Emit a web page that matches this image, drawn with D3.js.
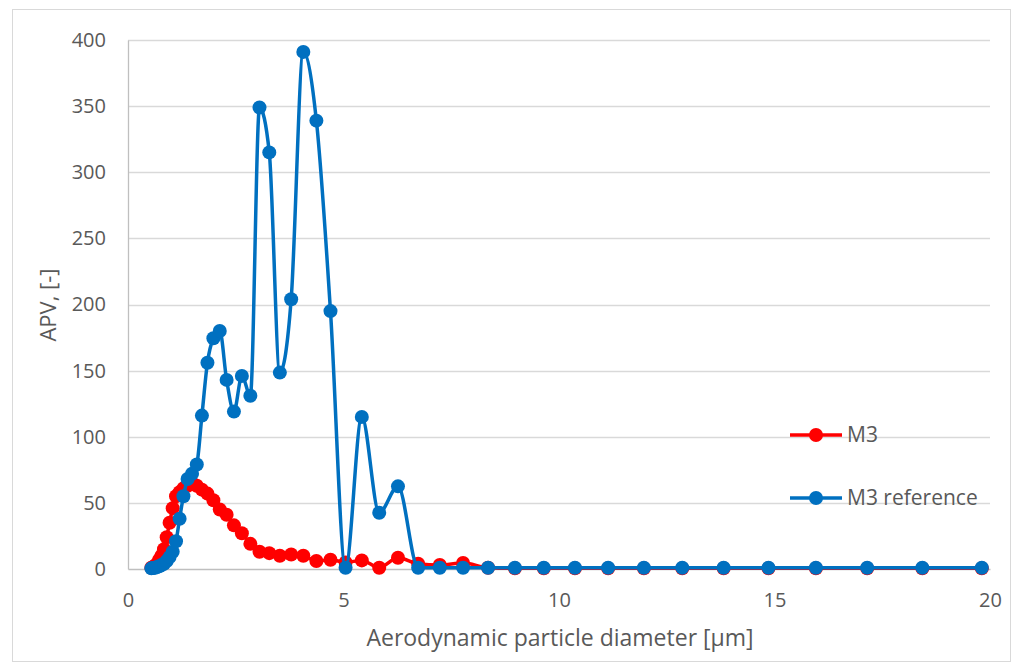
<!DOCTYPE html>
<html>
<head>
<meta charset="utf-8">
<script src="https://cdn.jsdelivr.net/npm/d3@7"></script>
<style>
  body { margin: 0; background: #fff; }
  svg text { font-family: "Open Sans", sans-serif; fill: #595959; }
</style>
</head>
<body>
<div id="chart"></div>
<script>
// APS channel midpoints (µm)
const diameters = [0.542, 0.583, 0.626, 0.673, 0.723, 0.777, 0.835, 0.898, 0.965, 1.037,
    1.114, 1.197, 1.286, 1.382, 1.486, 1.596, 1.715, 1.843, 1.981, 2.129,
    2.288, 2.458, 2.642, 2.839, 3.051, 3.278, 3.523, 3.786, 4.068, 4.371,
    4.698, 5.048, 5.425, 5.829, 6.264, 6.732, 7.234, 7.774, 8.354, 8.977,
    9.647, 10.37, 11.14, 11.97, 12.86, 13.82, 14.86, 15.96, 17.15, 18.43, 19.81];

const m3 = [1, 1.5, 2.5, 4, 7, 10, 15, 24, 35, 46,
    55, 58, 61, 63, 65, 63, 60, 57, 52, 45,
    41, 33, 27, 19, 13, 12, 10, 11, 10, 6,
    7, 5, 6.5, 1, 8.5, 4, 3, 4.5, 1, 0.5,
    0.5, 0.5, 0.5, 0.5, 0.5, 0.5, 0.5, 0.5, 0.5, 0.5, 0.5];

const m3Ref = [0.5, 0.8, 1, 1.5, 2, 3, 4, 6, 9, 13,
    21, 38, 55, 68, 72, 79, 116, 156, 174.5, 180,
    143, 119, 146, 131, 349, 315, 148.5, 204, 391, 339,
    195, 1, 115, 42.5, 62.5, 1, 1, 1, 1, 1,
    1, 1, 1, 1, 1, 1, 1, 1, 1, 1, 1];

const series = [
    { name: 'M3', values: m3, color: '#FF0000' },
    { name: 'M3 reference', values: m3Ref, color: '#0070C0' }
];

const xTicks = [0, 5, 10, 15, 20];
const yTicks = [0, 50, 100, 150, 200, 250, 300, 350, 400];

const width = 1022, height = 666;
const margin = { top: 40, right: 32, bottom: 97, left: 128 };
const plotW = width - margin.left - margin.right;
const plotH = height - margin.top - margin.bottom;

const svg = d3.select('#chart').append('svg')
    .attr('width', width)
    .attr('height', height);

// chart frame
svg.append('rect')
    .attr('x', 12.5).attr('y', 9.5)
    .attr('width', 998).attr('height', 652)
    .attr('fill', 'none')
    .attr('stroke', '#D9D9D9');

const g = svg.append('g')
    .attr('transform', `translate(${margin.left},${margin.top})`);

const x = d3.scaleLinear().domain([0, 20]).range([0, plotW]);
const y = d3.scaleLinear().domain([0, 400]).range([plotH, 0]);

// gridlines
g.append('g')
    .selectAll('line')
    .data(yTicks.filter(d => d > 0))
    .join('line')
    .attr('x1', 0).attr('x2', plotW)
    .attr('y1', d => Math.round(y(d)) + 0.5).attr('y2', d => Math.round(y(d)) + 0.5)
    .attr('stroke', '#D9D9D9')
    .attr('stroke-width', 1.3);

// axes
const yAxis = g.append('g')
    .call(d3.axisLeft(y).tickValues(yTicks).tickSize(0).tickPadding(22));
yAxis.select('.domain').attr('stroke', '#BFBFBF').attr('stroke-width', 1.3);
yAxis.selectAll('text').attr('font-size', 20).attr('fill', '#595959');

const xAxis = g.append('g')
    .attr('transform', `translate(0,${plotH})`)
    .call(d3.axisBottom(x).tickValues(xTicks).tickSize(0).tickPadding(24));
xAxis.select('.domain').attr('stroke', '#BFBFBF').attr('stroke-width', 1.3);
xAxis.selectAll('text').attr('font-size', 20).attr('fill', '#595959');

// axis titles
svg.append('text')
    .attr('x', margin.left + plotW / 2 + 1)
    .attr('y', 646)
    .attr('text-anchor', 'middle')
    .attr('font-size', 23)
    .text('Aerodynamic particle diameter [µm]');

svg.append('text')
    .attr('transform', 'rotate(-90)')
    .attr('x', -305)
    .attr('y', 56)
    .attr('text-anchor', 'middle')
    .attr('font-size', 22)
    .text('APV, [-]');

// lines + markers
const line = d3.line()
    .x((d, i) => x(diameters[i]))
    .y(d => y(d))
    .curve(d3.curveMonotoneX);

series.forEach(s => {
    g.append('path')
        .datum(s.values)
        .attr('fill', 'none')
        .attr('stroke', s.color)
        .attr('stroke-width', 3.5)
        .attr('stroke-linejoin', 'round')
        .attr('d', line);

    g.append('g')
        .selectAll('circle')
        .data(s.values)
        .join('circle')
        .attr('cx', (d, i) => x(diameters[i]))
        .attr('cy', d => y(d))
        .attr('r', 7)
        .attr('fill', s.color);
});

// legend
const legend = svg.append('g').attr('transform', 'translate(790,435)');
series.forEach((s, i) => {
    const row = legend.append('g').attr('transform', `translate(0,${i * 63})`);
    row.append('line')
        .attr('x1', 0).attr('x2', 52)
        .attr('y1', 0).attr('y2', 0)
        .attr('stroke', s.color)
        .attr('stroke-width', 3.5);
    row.append('circle')
        .attr('cx', 26).attr('cy', 0).attr('r', 7)
        .attr('fill', s.color);
    row.append('text')
        .attr('x', 57).attr('y', 7)
        .attr('font-size', 21)
        .text(s.name);
});
</script>
</body>
</html>
